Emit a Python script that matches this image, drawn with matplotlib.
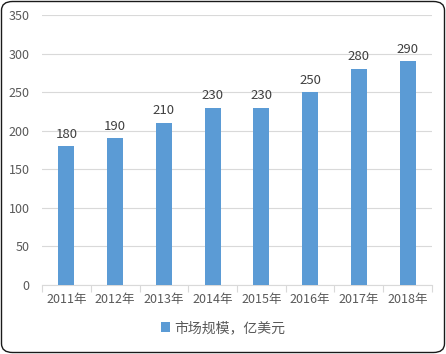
import matplotlib.pyplot as plt
from matplotlib.patches import FancyBboxPatch
import numpy as np

plt.rcParams['font.family'] = ['Noto Sans CJK SC', 'DejaVu Sans']

years = ["2011年", "2012年", "2013年", "2014年", "2015年", "2016年", "2017年", "2018年"]
market = [180, 190, 210, 230, 230, 250, 280, 290]
series_name = "市场规模，亿美元"

bar_color = "#5B9BD5"
text_color = "#595959"
grid_color = "#D9D9D9"

fig = plt.figure(figsize=(4.46, 3.54), dpi=100)
ax = fig.add_axes([42 / 446, 69 / 354, 390 / 446, 270 / 354])

x = np.arange(len(years))
bars = ax.bar(x, market, width=0.33, color=bar_color, label=series_name, zorder=3)

for xi, v in zip(x, market):
    ax.annotate(str(v), (xi, v), xytext=(0, 4), textcoords="offset points",
                ha="center", va="bottom", fontsize=9.5, color="#404040")

ax.set_xlim(-0.5, len(years) - 0.5)
ax.set_ylim(0, 350)
ax.set_yticks(np.arange(0, 351, 50))
ax.yaxis.grid(True, color=grid_color, linewidth=0.8, zorder=0)

ax.set_xticks(x)
ax.set_xticklabels(years)
ax.set_xticks(np.arange(-0.5, len(years), 1), minor=True)
ax.tick_params(axis="x", which="major", length=0, pad=6, labelsize=9, labelcolor=text_color)
ax.tick_params(axis="x", which="minor", length=5, color=grid_color, width=0.8)
ax.tick_params(axis="y", length=0, pad=9, labelsize=9, labelcolor=text_color)

for s in ["top", "right", "left"]:
    ax.spines[s].set_visible(False)
ax.spines["bottom"].set_color(grid_color)
ax.spines["bottom"].set_linewidth(0.8)

leg = fig.legend(loc="center", bbox_to_anchor=(0.5, 26 / 354), frameon=False,
                 fontsize=10, handlelength=0.7, handleheight=0.7, handletextpad=0.3)
for t in leg.get_texts():
    t.set_color(text_color)

border = FancyBboxPatch((1.5 / 446, 1.5 / 354), 443 / 446, 351 / 354,
                        boxstyle="round,pad=0,rounding_size=0.025",
                        transform=fig.transFigure, fill=False,
                        edgecolor="#1a1a1a", linewidth=1.0)
fig.patches.append(border)

fig.savefig("out.png", dpi=100)
